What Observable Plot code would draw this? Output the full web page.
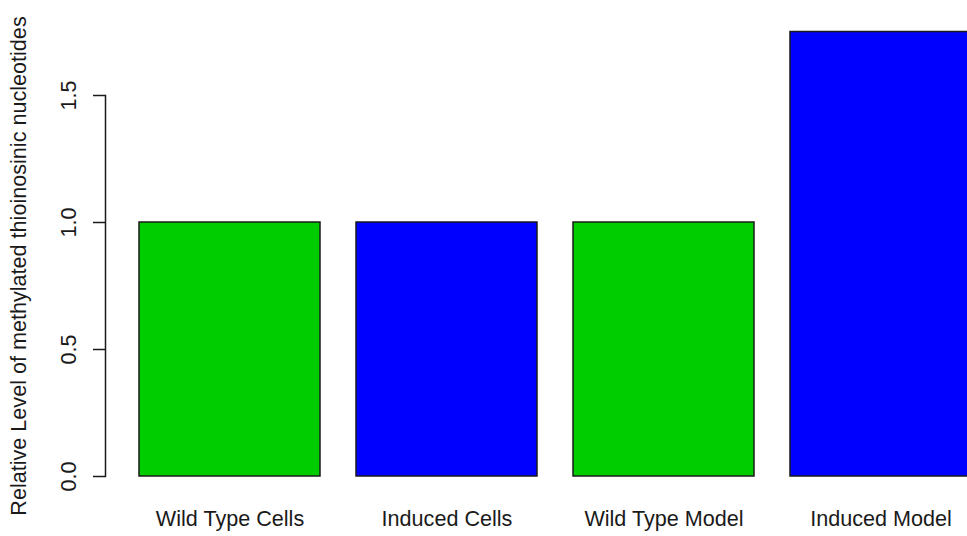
<!DOCTYPE html>
<html>
<head>
<meta charset="utf-8">
<script src="https://cdn.jsdelivr.net/npm/d3@7"></script>
<script src="https://cdn.jsdelivr.net/npm/@observablehq/plot@0.6"></script>
<style>
  html, body { margin: 0; padding: 0; background: #fff; overflow: hidden; }
  #chart svg { display: block; }
</style>
</head>
<body>
<div id="chart"></div>
<script>
const categories = ["Wild Type Cells", "Induced Cells", "Wild Type Model", "Induced Model"];
const values = [1.0, 1.0, 1.0, 1.75];
const colors = ["#00CD00", "#0000FF", "#00CD00", "#0000FF"];
const yTicks = [0, 0.5, 1.0, 1.5];
const yTitle = "Relative Level of methylated thioinosinic nucleotides";

const data = categories.map((c, i) => ({cat: c, value: values[i], color: colors[i]}));

const font = "'Liberation Sans', Arial, Helvetica, sans-serif";
const ink = "#1a1a1a";
const fs = 21.6;

const chart = Plot.plot({
  width: 967,
  height: 536,
  marginLeft: 105,
  marginRight: 0,
  marginTop: 95,
  marginBottom: 60,
  style: {fontFamily: font, fontSize: fs + "px", color: ink, background: "#fff"},
  x: {domain: categories, range: [137.5, 972.5], paddingInner: 0.1667, paddingOuter: 0, axis: null},
  y: {domain: [0, 1.5], axis: null},
  color: {type: "identity"},
  marks: [
    Plot.barY(data, {x: "cat", y: "value", fill: "color", stroke: ink, strokeWidth: 1.5}),
    Plot.frame({anchor: "left", stroke: ink, strokeWidth: 1.5}),
    Plot.axisY({ticks: yTicks, tickSize: 12, tickFormat: () => "", label: null, stroke: ink, strokeWidth: 1.5}),
    Plot.text(yTicks, {y: d => d, text: d => d.toFixed(1), frameAnchor: "left", dx: -36, rotate: -90,
      textAnchor: "middle", lineAnchor: "middle", fontSize: fs, fill: ink}),
    Plot.text(categories, {x: d => d, text: d => d, frameAnchor: "bottom", dy: 43,
      textAnchor: "middle", lineAnchor: "middle", fontSize: fs, fill: ink}),
    Plot.text([yTitle], {text: d => d, frameAnchor: "left", dx: -86, dy: -20, rotate: -90,
      textAnchor: "middle", lineAnchor: "middle", fontSize: fs, fill: ink})
  ]
});
document.getElementById("chart").appendChild(chart);
</script>
</body>
</html>
